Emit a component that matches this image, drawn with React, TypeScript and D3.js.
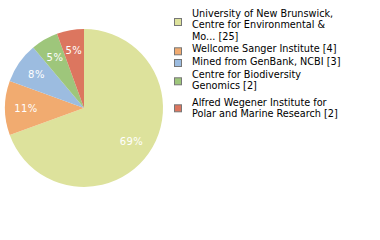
import React from "react";
import * as d3 from "d3";

const categories = [
  "University of New Brunswick, Centre for Environmental & Mo...",
  "Wellcome Sanger Institute",
  "Mined from GenBank, NCBI",
  "Centre for Biodiversity Genomics",
  "Alfred Wegener Institute for Polar and Marine Research",
];
const counts = [25, 4, 3, 2, 2];
const legendLines = [
  ["University of New Brunswick,", "Centre for Environmental &", "Mo... [25]"],
  ["Wellcome Sanger Institute [4]"],
  ["Mined from GenBank, NCBI [3]"],
  ["Centre for Biodiversity", "Genomics [2]"],
  ["Alfred Wegener Institute for", "Polar and Marine Research [2]"],
];
const colors = ["#dde29c", "#f1ab70", "#9cbce0", "#9ec67b", "#dc765f"];

// layout
const legendFirstBaseline = [16.7, 52, 65, 77.7, 105.7];
const legendSquareY = [18, 47.3, 59, 77.3, 104.3];
const lineH = 11.4;

export default function App() {
  const W = 380, H = 240;
  const cx = 84, cy = 108, r = 79;
  const total = d3.sum(counts);
  const pie = d3.pie<number>().sort(null).value((d) => d)(counts);
  const arc = d3.arc<d3.PieArcDatum<number>>().innerRadius(0).outerRadius(r);
  const labelArc = d3.arc<d3.PieArcDatum<number>>().innerRadius(58).outerRadius(58);
  return (
    <svg width={W} height={H} style={{ position: "absolute", left: 0, top: 0 }}>
      <rect width={W} height={H} fill="#fff" />
      <g transform={`translate(${cx},${cy})`}>
        {pie.map((p, i) => (
          <path key={i} d={arc(p) || ""} fill={colors[i]} />
        ))}
        {pie.map((p, i) => {
          const [x, y] = labelArc.centroid(p);
          return (
            <text
              key={"l" + i}
              x={x}
              y={y}
              dy="0.36em"
              textAnchor="middle"
              fill="#fff"
              fontFamily="DejaVu Sans"
              fontSize={10}
              letterSpacing={0.5}
            >
              {Math.floor((counts[i] / total) * 100)}%
            </text>
          );
        })}
      </g>
      <g fontFamily="DejaVu Sans" fontSize={9.7} fill="#000">
        {categories.map((c, i) => (
          <g key={c}>
            <rect
              x={174.5}
              y={legendSquareY[i] + 0.5}
              width={7}
              height={7}
              fill={colors[i]}
              stroke="#777"
              strokeWidth={1}
            />
            {legendLines[i].map((t, j) => (
              <text key={j} x={192} y={legendFirstBaseline[i] + j * lineH}>
                {t}
              </text>
            ))}
          </g>
        ))}
      </g>
    </svg>
  );
}
